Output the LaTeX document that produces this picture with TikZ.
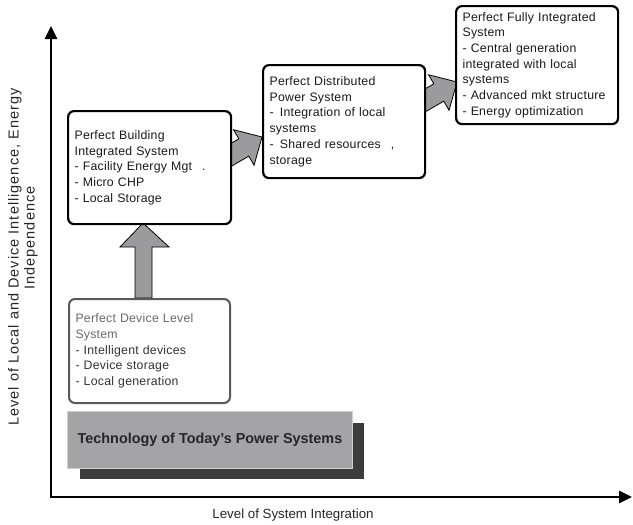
\documentclass[tikz,border=0pt]{standalone}
\usepackage{fontspec}
\setmainfont{Liberation Sans}
\usetikzlibrary{arrows.meta}
\newcommand\mybxfont{\fontsize{12.3}{15.7}\selectfont\addfontfeature{LetterSpace=2}}
\definecolor{arrowgray}{HTML}{9B9B9D}
\definecolor{todayfill}{HTML}{A4A4A7}
\definecolor{todayedge}{HTML}{CFCFD0}
\definecolor{shadowgray}{HTML}{3C3C3C}
\definecolor{devedge}{HTML}{5A5A5A}
\definecolor{devtitle}{HTML}{6A6A6A}
\definecolor{devtext}{HTML}{333333}
\begin{document}
\begin{tikzpicture}[x=1pt,y=-1pt,
  stagebox/.style={draw=black,line width=2.2pt,rounded corners=6pt,fill=white,
    anchor=north west,align=left,inner xsep=6.5pt,inner ysep=0pt,font=\mybxfont,text=black!90},
  blockarrow/.style={fill=arrowgray,draw=black,line width=0.8pt,line join=miter},
  axisline/.style={line width=2.8pt,line join=miter},
  axislabel/.style={font=\fontsize{14.5}{16}\selectfont\addfontfeature{LetterSpace=7},text=black!85}]
\useasboundingbox (0,0) rectangle (633,525);

% axes
\coordinate (ytop) at (51,26);
\coordinate (origin) at (51,497);
\coordinate (xend) at (632,497);
\draw[axisline,{Triangle[length=13pt,width=12pt]}-{Triangle[length=13pt,width=12pt]}] (ytop) -- (origin) -- (xend);

% axis labels
\node[axislabel,rotate=90] (ylab1) at (15,257) {Level of Local and Device Intelligence, Energy};
\node[axislabel,rotate=90] (ylab2) at (31,238) {Independence};
\node[font=\fontsize{13.3}{16}\selectfont,text=black!85] (xlab) at (293,515) {Level of System Integration};

% today's technology
\fill[shadowgray] (80,423) rectangle (364,479);
\node[fill=todayfill,draw=todayedge,line width=1pt,minimum width=285pt,minimum height=57pt,anchor=north west,inner sep=0pt,
  font=\fontsize{14.4}{16}\selectfont\bfseries,text=black!85] (today) at (67,411) {Technology of Today’s Power Systems};

% block arrows (drawn first, boxes cover the tails)
\fill[blockarrow] (143,223) -- (169,247) -- (152,247) -- (152,298) -- (135,298) -- (135,247) -- (120,247) -- cycle;
\begin{scope}[shift={(262,137)},rotate=30]
  \fill[blockarrow] (0,0) -- (-21,20.5) -- (-21,10) -- (-48,10) -- (-48,-10) -- (-21,-10) -- (-21,-20.5) -- cycle;
\end{scope}
\begin{scope}[shift={(457,82)},rotate=30]
  \fill[blockarrow] (0,0) -- (-21,20.5) -- (-21,10) -- (-48,10) -- (-48,-10) -- (-21,-10) -- (-21,-20.5) -- cycle;
\end{scope}

% stage boxes
\node[stagebox,draw=devedge,line width=2pt,text width=148pt,minimum height=104pt] (device) at (68,298)
  {\textcolor{devtitle}{Perfect Device Level}\\ \textcolor{devtitle}{System}\\
   \textcolor{devtext}{- Intelligent devices}\\ \textcolor{devtext}{- Device storage}\\ \textcolor{devtext}{- Local generation}};
\node[stagebox,text width=150pt,minimum height=113pt] (building) at (67,110)
  {Perfect Building\\ Integrated System\\ - Facility Energy Mgt\hspace{10pt}.\\ - Micro CHP\\ - Local Storage};
\node[stagebox,text width=149pt,minimum height=113pt] (distributed) at (262,64)
  {Perfect Distributed\\ Power System\\ -\, Integration of local\\ systems\\ -\, Shared resources\hspace{10pt},\\ storage};
\node[stagebox,text width=149pt,minimum height=118pt] (fully) at (455,5)
  {Perfect Fully Integrated\\ System\\ - Central generation\\ integrated with local\\ systems\\ - Advanced mkt structure\\ - Energy optimization};
\end{tikzpicture}
\end{document}
